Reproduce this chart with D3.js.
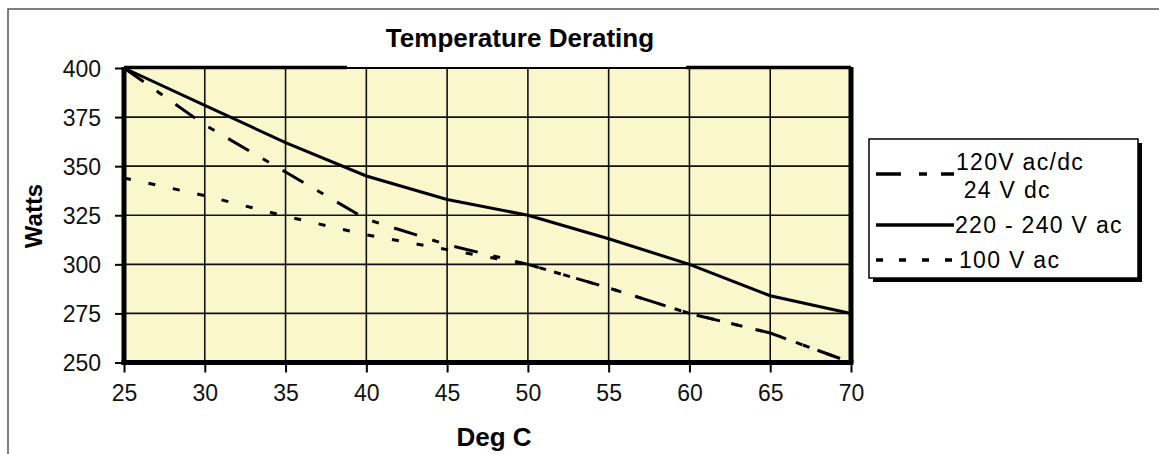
<!DOCTYPE html>
<html>
<head>
<meta charset="utf-8">
<script src="https://cdn.jsdelivr.net/npm/d3@7"></script>
<style>
  html, body { margin: 0; padding: 0; background: #fff; }
  svg { display: block; font-family: "Liberation Sans", Arial, sans-serif; }
</style>
</head>
<body>
<div id="chart"></div>
<script>
// values
const temps = [25, 30, 35, 40, 45, 50, 55, 60, 65, 70];
const watts120 = [400, 371, 347, 323, 310, 300, 288, 275, 265, 250];
const watts220 = [400, 381, 362, 345, 333, 325, 313, 300, 284, 275];
const watts100 = [344, 335, 324.5, 315, 307.5, 300, 288, 275, 265, 250];
const xTicks = [25, 30, 35, 40, 45, 50, 55, 60, 65, 70];
const yTicks = [250, 275, 300, 325, 350, 375, 400];

const series = [
  { name: ['120V ac/dc', ' 24 V dc'], values: watts120, dash: '24,16,7,16' },
  { name: ['220 - 240 V ac'], values: watts220, dash: null },
  { name: ['100 V ac'], values: watts100, dash: '7,18' }
];

const W = 1159, H = 454;
const svg = d3.select('#chart').append('svg')
  .attr('width', W).attr('height', H);

// outer chart frame (runs off the right and bottom edge)
svg.append('rect')
  .attr('x', 8).attr('y', 9).attr('width', W + 20).attr('height', H + 20)
  .attr('fill', '#fff').attr('stroke', '#555').attr('stroke-width', 1.5);

const x = d3.scaleLinear().domain([25, 70]).range([124, 851]);
const y = d3.scaleLinear().domain([250, 400]).range([362.5, 68]);

// plot background
svg.append('rect')
  .attr('x', x(25)).attr('y', y(400))
  .attr('width', x(70) - x(25)).attr('height', y(250) - y(400))
  .attr('fill', '#FAF7CD');

// grid
const grid = svg.append('g').attr('stroke', '#111').attr('stroke-width', 1.6);
grid.selectAll('line.v').data(xTicks.slice(1, -1)).join('line')
  .attr('x1', d => x(d)).attr('x2', d => x(d))
  .attr('y1', y(400)).attr('y2', y(250));
grid.selectAll('line.h').data(yTicks.slice(1, -1)).join('line')
  .attr('x1', x(25)).attr('x2', x(70))
  .attr('y1', d => y(d)).attr('y2', d => y(d));

// data lines
const line = d3.line()
  .x((d, i) => x(temps[i]))
  .y(d => y(d));

svg.append('g').selectAll('path').data(series).join('path')
  .attr('d', d => line(d.values))
  .attr('fill', 'none')
  .attr('stroke', '#000')
  .attr('stroke-width', 3)
  .attr('stroke-dasharray', d => d.dash);

// plot border: thick left/bottom/right, uneven top like the original
const border = svg.append('g').attr('stroke', '#000');
border.append('line').attr('x1', x(25)).attr('x2', x(25))
  .attr('y1', y(400) - 1).attr('y2', y(250) + 2.5).attr('stroke-width', 5);
border.append('line').attr('x1', x(25) - 2.5).attr('x2', x(70) + 2.5)
  .attr('y1', y(250)).attr('y2', y(250)).attr('stroke-width', 5);
border.append('line').attr('x1', x(70)).attr('x2', x(70))
  .attr('y1', y(400) - 1).attr('y2', y(250)).attr('stroke-width', 5);
border.append('line').attr('x1', x(25)).attr('x2', x(70))
  .attr('y1', y(400)).attr('y2', y(400)).attr('stroke-width', 2);
border.append('line').attr('x1', x(25)).attr('x2', x(38.8))
  .attr('y1', y(400) - 0.5).attr('y2', y(400) - 0.5).attr('stroke-width', 3.5);
border.append('line').attr('x1', x(59.8)).attr('x2', x(70))
  .attr('y1', y(400) - 0.5).attr('y2', y(400) - 0.5).attr('stroke-width', 3.5);

// axes
const yAxis = svg.append('g')
  .attr('transform', `translate(${x(25) - 1},0)`)
  .call(d3.axisLeft(y).tickValues(yTicks).tickSize(8).tickPadding(14));
const xAxis = svg.append('g')
  .attr('transform', `translate(0,${y(250) + 1})`)
  .call(d3.axisBottom(x).tickValues(xTicks).tickSize(9).tickPadding(10));

[xAxis, yAxis].forEach(a => {
  a.select('.domain').remove();
  a.selectAll('.tick line').attr('stroke', '#000').attr('stroke-width', 2);
  a.selectAll('.tick text')
    .attr('fill', '#111')
    .style('font-size', '23px')
    .style('font-family', '"Liberation Sans", Arial, sans-serif');
});
yAxis.selectAll('.tick text').attr('dy', '0.36em');
xAxis.selectAll('.tick text').attr('dy', '0.8em');

// titles
svg.append('text')
  .attr('x', 520).attr('y', 47)
  .attr('text-anchor', 'middle')
  .style('font-size', '26px').style('font-weight', 700)
  .text('Temperature Derating');

svg.append('text')
  .attr('transform', 'translate(42,216) rotate(-90)')
  .attr('text-anchor', 'middle')
  .style('font-size', '24px').style('font-weight', 700)
  .text('Watts');

svg.append('text')
  .attr('x', 494).attr('y', 446)
  .attr('text-anchor', 'middle')
  .style('font-size', '26px').style('font-weight', 700)
  .text('Deg C');

// legend
const lg = svg.append('g');
lg.append('rect')
  .attr('x', 873).attr('y', 143).attr('width', 269).attr('height', 139)
  .attr('fill', '#000');
lg.append('rect')
  .attr('x', 869).attr('y', 139).attr('width', 269).attr('height', 139)
  .attr('fill', '#fff').attr('stroke', '#000').attr('stroke-width', 1.5);

const legendRows = [
  { lineY: 174, textY: [170, 198], textX: 956 },
  { lineY: 225, textY: [233], textX: 955 },
  { lineY: 260, textY: [268], textX: 959 }
];

const items = lg.selectAll('g.item').data(series).join('g').attr('class', 'item');
items.append('line')
  .attr('x1', 876).attr('x2', 954)
  .attr('y1', (d, i) => legendRows[i].lineY)
  .attr('y2', (d, i) => legendRows[i].lineY)
  .attr('stroke', '#000').attr('stroke-width', 3.5)
  .attr('stroke-dasharray', (d, i) => i === 0 ? '25,18,8,14' : d.dash ? '7,16' : null);
items.each(function (d, i) {
  const row = legendRows[i];
  d.name.forEach((t, k) => {
    d3.select(this).append('text')
      .attr('x', row.textX).attr('y', row.textY[k])
      .attr('xml:space', 'preserve')
      .style('white-space', 'pre')
      .style('font-size', '23px')
      .style('letter-spacing', '1.3px')
      .text(t);
  });
});
</script>
</body>
</html>
